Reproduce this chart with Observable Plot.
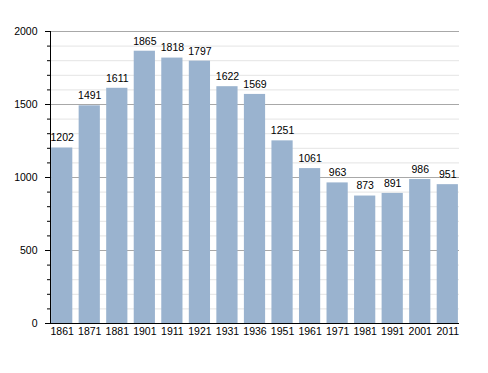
<!DOCTYPE html>
<html>
<head>
<meta charset="utf-8">
<script src="https://cdn.jsdelivr.net/npm/d3@7"></script>
<script src="https://cdn.jsdelivr.net/npm/@observablehq/plot@0.6"></script>
<style>
  html, body { margin: 0; padding: 0; background: #fff; }
  svg { display: block; }
</style>
</head>
<body>
<div id="chart"></div>
<script>
const years = ["1861","1871","1881","1901","1911","1921","1931","1936","1951","1961","1971","1981","1991","2001","2011"];
const population = [1202,1491,1611,1865,1818,1797,1622,1569,1251,1061,963,873,891,986,951];
const majorTicks = [0,500,1000,1500,2000];
const minorTicks = d3.range(0, 2001, 100).filter(v => v % 500 !== 0);

const data = years.map((y, i) => ({year: y, pop: population[i]}));

const chart = Plot.plot({
  width: 488,
  height: 373,
  marginTop: 31,
  marginBottom: 50,
  marginLeft: 50,
  marginRight: 29,
  style: {fontFamily: "'Liberation Sans', Arial, sans-serif", fontSize: "10px", color: "#000", background: "#fff"},
  x: {domain: years, paddingInner: 0.23, paddingOuter: 0.04, round: false, label: null},
  y: {domain: [0, 2000], label: null},
  marks: [
    Plot.ruleY(minorTicks, {stroke: "#e4e4e4", strokeWidth: 1}),
    Plot.ruleY(majorTicks, {stroke: "#a8a8a8", strokeWidth: 1}),
    Plot.barY(data, {x: "year", y: "pop", fill: "#9ab3cf", insetLeft: 0, insetRight: 0}),
    Plot.text(data, {x: "year", y: "pop", text: d => String(d.pop), dy: -10, fill: "#000", fontSize: 10.5}),
    Plot.axisY({ticks: minorTicks, tickSize: 3, text: null, label: null, stroke: "#000"}),
    Plot.axisY({ticks: majorTicks, tickSize: 5, tickPadding: 8, tickFormat: "d", label: null, stroke: "#000", fill: "#000", fontSize: 10.5}),
    Plot.axisX({tickSize: 0, tickPadding: 4, label: null, fill: "#000", fontSize: 10.5}),
    Plot.frame({anchor: "left", stroke: "#000"}),
    Plot.ruleY([0], {stroke: "#000", insetLeft: -5, strokeWidth: 1.2})
  ]
});
document.getElementById("chart").appendChild(chart);
</script>
</body>
</html>
